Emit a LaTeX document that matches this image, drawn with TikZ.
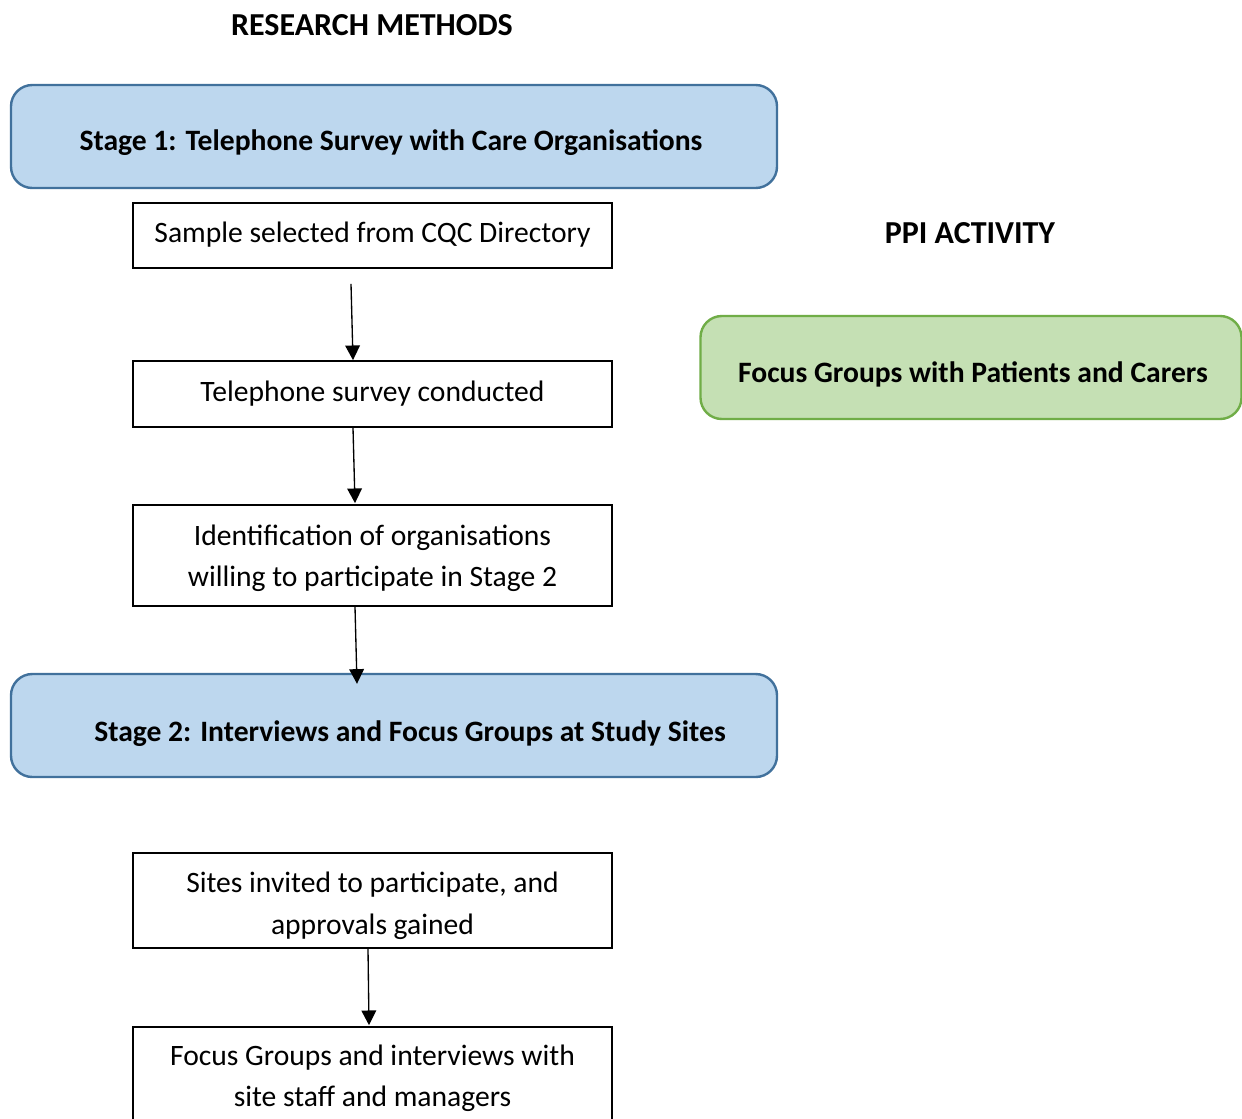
\documentclass[tikz,border=0pt]{standalone}
\usepackage{fontspec}
\setmainfont{Carlito}
\usetikzlibrary{arrows.meta}
\definecolor{stagefill}{RGB}{189,215,238}
\definecolor{stageline}{RGB}{65,113,156}
\definecolor{ppifill}{RGB}{197,224,180}
\definecolor{ppiline}{RGB}{112,173,71}
\tikzset{
  stepbox/.style={draw=black, line width=1.3pt, fill=white, align=center,
    minimum width=359.25pt, inner sep=0pt, font=\fontsize{22.2}{30.5}\selectfont},
  stagebox/.style={draw=stageline, fill=stagefill, line width=1.8pt, rounded corners=16pt,
    minimum width=574.5pt, minimum height=77.25pt, inner sep=0pt},
  ppibox/.style={draw=ppiline, fill=ppifill, line width=1.8pt, rounded corners=16pt,
    minimum width=405.75pt, minimum height=77.25pt, inner sep=0pt},
  boldtext/.style={font=\fontsize{22.2}{30}\selectfont\bfseries, inner sep=0pt},
  plaintext/.style={font=\fontsize{22.2}{31.5}\selectfont, inner sep=0pt, align=center},
  heading/.style={font=\fontsize{24}{28}\selectfont\bfseries, inner sep=0pt},
  flow/.style={-{Triangle[width=11pt,length=11pt]}, line width=1pt}
}
\begin{document}
\begin{tikzpicture}[x=0.75pt, y=-0.75pt]
\clip (0,0) rectangle (1242,1118);
\fill[white] (0,0) rectangle (1242,1118);

% headings
\node[heading] (rm) at (372,25) {RESEARCH METHODS};
\node[heading] (ppi) at (970,233) {PPI ACTIVITY};

% stage 1
\node[stagebox] (s1) at (394,136.5) {};
\node[boldtext] (s1t) at ([shift={(-3,6)}]s1.center) {Stage 1: Telephone Survey with Care Organisations};
\node[stepbox, minimum height=48.75pt] (b1) at (372.5,235.5) {};
\node[plaintext] (b1t) at ([shift={(0,-1)}]b1.center) {Sample selected from CQC Directory};
\node[stepbox, minimum height=49.5pt] (b2) at (372.5,394) {Telephone survey conducted};
\node[stepbox, minimum height=75.75pt] (b3) at (372.5,555.5) {};
\node[plaintext, font=\fontsize{22.2}{30.5}\selectfont] (b3t) at ([shift={(0,2.5)}]b3.center) {Identification of organisations\\willing to participate in Stage 2};

% stage 2
\node[stagebox] (s2) at (394,725.5) {};
\node[boldtext] (s2t) at ([shift={(16,8)}]s2.center) {Stage 2: Interviews and Focus Groups at Study Sites};
\node[stepbox, minimum height=71.25pt] (b4) at (372.5,900.5) {};
\node[plaintext] (b4t) at ([shift={(0,5)}]b4.center) {Sites invited to participate, and\\approvals gained};
\node[stepbox, minimum height=77.25pt] (b5) at (372.5,1078.5) {Focus Groups and interviews with\\site staff and managers};

% PPI
\node[ppibox] (p1) at (971,367.5) {};
\node[boldtext] (p1t) at ([shift={(2,7)}]p1.center) {Focus Groups with Patients and Carers};

% connectors
\draw[flow] ([shift={(-21.5,15)}]b1.south) -- ([shift={(-19.5,0)}]b2.north);
\draw[flow] ([shift={(-19.5,0)}]b2.south) -- ([shift={(-17.5,-1)}]b3.north);
\draw[flow] ([shift={(-17.5,0)}]b3.south) -- ([shift={(-15.5,11)}]s2.north -| b3.north);
\draw[flow] ([shift={(-4.5,0)}]b4.south) -- ([shift={(-3.5,-1)}]b5.north);
\end{tikzpicture}
\end{document}
